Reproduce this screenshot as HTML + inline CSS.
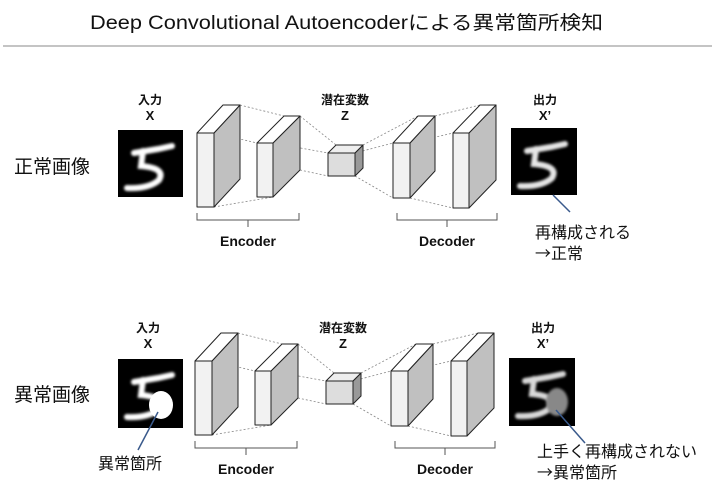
<!DOCTYPE html>
<html><head><meta charset="utf-8"><style>
body{margin:0;background:#fff}
svg{display:block}
text{font-family:"Liberation Sans","Noto Sans CJK JP",sans-serif}
.jp{font-family:"Noto Sans CJK JP",sans-serif}
</style></head><body>
<svg width="719" height="498" viewBox="0 0 719 498" xmlns="http://www.w3.org/2000/svg">
<defs>
<filter id="bl" x="-20%" y="-20%" width="140%" height="140%"><feGaussianBlur stdDeviation="1.4"/></filter>
<g id="net">
  <g stroke="#888" stroke-width="0.8" stroke-dasharray="2,2" fill="none">
    <line x1="240" y1="105" x2="284" y2="116"/>
    <line x1="214" y1="133" x2="257" y2="143"/>
    <line x1="214" y1="207" x2="273" y2="197"/>
    <line x1="300" y1="116" x2="336" y2="145"/>
    <line x1="273" y1="143" x2="328" y2="153"/>
    <line x1="300" y1="170" x2="328" y2="176"/>
    <line x1="363" y1="145" x2="418" y2="116"/>
    <line x1="355" y1="153" x2="393" y2="143"/>
    <line x1="355" y1="176" x2="393" y2="198"/>
    <line x1="435" y1="116" x2="480" y2="105"/>
    <line x1="410" y1="143" x2="453" y2="133"/>
    <line x1="410" y1="198" x2="453" y2="208"/>
  </g>
  <g stroke="#222" stroke-width="1" stroke-linejoin="round">
    <polygon points="214,133 240,105 240,179 214,207" fill="#c0c0c0"/>
    <polygon points="197,133 223,105 240,105 214,133" fill="#fff"/>
    <rect x="197" y="133" width="17" height="74" fill="#f2f2f2"/>
    <polygon points="273,143 300,116 300,170 273,197" fill="#c0c0c0"/>
    <polygon points="257,143 284,116 300,116 273,143" fill="#fff"/>
    <rect x="257" y="143" width="16" height="54" fill="#f2f2f2"/>
    <polygon points="355,153 363,145 363,168 355,176" fill="#999"/>
    <polygon points="328,153 336,145 363,145 355,153" fill="#eee"/>
    <rect x="328" y="153" width="27" height="23" fill="#ddd"/>
    <polygon points="410,143 435,116 435,171 410,198" fill="#c0c0c0"/>
    <polygon points="393,143 418,116 435,116 410,143" fill="#fff"/>
    <rect x="393" y="143" width="17" height="55" fill="#f2f2f2"/>
    <polygon points="469,133 496,105 496,180 469,208" fill="#c0c0c0"/>
    <polygon points="453,133 480,105 496,105 469,133" fill="#fff"/>
    <rect x="453" y="133" width="16" height="75" fill="#f2f2f2"/>
  </g>
  <g stroke="#555" stroke-width="1" fill="none">
    <path d="M197 213 V220 H299 V213 M248 220 V227"/>
    <path d="M397 213 V220 H497 V213 M447 220 V227"/>
  </g>
  <g font-weight="bold" text-anchor="middle" fill="#111">
    <text x="248" y="246" font-size="14">Encoder</text>
    <text x="447" y="246" font-size="14">Decoder</text>
    <text x="150" y="104" font-size="12">入力</text>
    <text x="150" y="120" font-size="13">X</text>
    <text x="345" y="104" font-size="12">潜在変数</text>
    <text x="345" y="120" font-size="13">Z</text>
    <text x="545" y="104" font-size="12">出力</text>
    <text x="545" y="120" font-size="13">X’</text>
  </g>
</g>
<g id="five">
  <path d="M134 153 L158 149 L172 146 M143 151 L141 166 Q166 168 159 180 Q149 189 127 188" stroke="#fff" stroke-width="6" fill="none" stroke-linecap="round" filter="url(#bl)"/>
</g>
</defs>

<text x="90" y="29" font-size="19" fill="#111" textLength="513" lengthAdjust="spacingAndGlyphs">Deep Convolutional  Autoencoderによる異常箇所検知</text>
<line x1="3" y1="46" x2="712" y2="46" stroke="#888" stroke-width="1"/>

<use href="#net"/>
<rect x="118" y="130" width="65" height="67" fill="#000"/>
<use href="#five"/>
<rect x="511" y="128" width="66" height="67" fill="#000"/>
<g transform="translate(393,-2)"><use href="#five" opacity="0.9"/></g>
<line x1="553" y1="195" x2="570" y2="212" stroke="#3a5a8c" stroke-width="1.5"/>
<text x="14" y="173" font-size="19" fill="#111">正常画像</text>
<text x="535" y="238" font-size="16" fill="#111">再構成される</text>
<text x="535" y="259" font-size="16" fill="#111" class="jp">→正常</text>

<g transform="translate(-2,228)"><use href="#net"/></g>
<rect x="118" y="359" width="65" height="69" fill="#000"/>
<g transform="translate(0,229)"><use href="#five"/></g>
<ellipse cx="161" cy="405" rx="12" ry="14" fill="#fff"/>
<line x1="158" y1="412" x2="138" y2="450" stroke="#3a5a8c" stroke-width="1.5"/>
<rect x="509" y="358" width="66" height="68" fill="#000"/>
<g transform="translate(391,228)"><use href="#five" opacity="0.85"/></g>
<ellipse cx="557" cy="402" rx="11" ry="14" fill="#888" filter="url(#bl)"/>
<line x1="556" y1="410" x2="585" y2="443" stroke="#3a5a8c" stroke-width="1.5"/>
<text x="14" y="401" font-size="19" fill="#111">異常画像</text>
<text x="98" y="469" font-size="16" fill="#111">異常箇所</text>
<text x="537" y="457" font-size="16" fill="#111">上手く再構成されない</text>
<text x="537" y="478" font-size="16" fill="#111" class="jp">→異常箇所</text>
</svg>
</body></html>
